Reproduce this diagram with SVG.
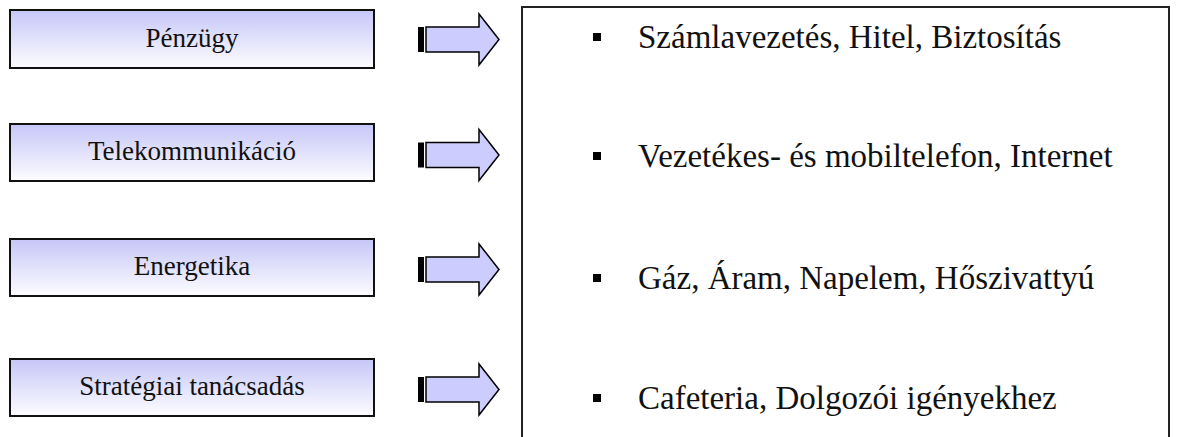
<svg xmlns="http://www.w3.org/2000/svg" width="1177" height="437" viewBox="0 0 1177 437">
  <defs>
    <linearGradient id="boxFill" x1="0" y1="0" x2="0" y2="1">
      <stop offset="0" stop-color="#c6c6f8"/>
      <stop offset="1" stop-color="#fdfdff"/>
    </linearGradient>
    <style>
      .box { fill: url(#boxFill); stroke: #111; stroke-width: 2; }
      .lbl { font-family: "Liberation Serif", "Times New Roman", serif; font-size: 27px; fill: #111; text-anchor: middle; }
      .item { font-family: "Liberation Serif", "Times New Roman", serif; font-size: 33px; fill: #111; }
      .bullet { fill: #000; }
      .panel { fill: #fff; stroke: #222; stroke-width: 2; }
      .arrow { fill: #ccccff; stroke: #000; stroke-width: 1.5; stroke-linejoin: miter; }
      .stripe { fill: #000; }
    </style>
  </defs>
  <rect width="1177" height="437" fill="#fff"/>

  <g id="panel">
    <rect class="panel" x="522" y="7" width="647" height="440"/>
  </g>

  <g id="node-penzugy">
    <rect class="box" x="10" y="10" width="364" height="58"/>
    <text class="lbl" x="192" y="47">Pénzügy</text>
  </g>
  <g id="node-telekommunikacio">
    <rect class="box" x="10" y="124" width="364" height="57"/>
    <text class="lbl" x="192" y="160">Telekommunikáció</text>
  </g>
  <g id="node-energetika">
    <rect class="box" x="10" y="239" width="364" height="57"/>
    <text class="lbl" x="192" y="275">Energetika</text>
  </g>
  <g id="node-strategiai">
    <rect class="box" x="10" y="359" width="364" height="57"/>
    <text class="lbl" x="192" y="395">Stratégiai tanácsadás</text>
  </g>

  <g id="connectors">
    <g transform="translate(0,39.5)">
      <rect class="stripe" x="418" y="-12.5" width="6" height="25"/>
      <path class="arrow" d="M426,-12.5 H479 V-25.5 L499,0 L479,25.5 V12.5 H426 Z"/>
    </g>
    <g transform="translate(0,155)">
      <rect class="stripe" x="418" y="-12.5" width="6" height="25"/>
      <path class="arrow" d="M426,-12.5 H479 V-25.5 L499,0 L479,25.5 V12.5 H426 Z"/>
    </g>
    <g transform="translate(0,269.5)">
      <rect class="stripe" x="418" y="-12.5" width="6" height="25"/>
      <path class="arrow" d="M426,-12.5 H479 V-25.5 L499,0 L479,25.5 V12.5 H426 Z"/>
    </g>
    <g transform="translate(0,389.5)">
      <rect class="stripe" x="418" y="-12.5" width="6" height="25"/>
      <path class="arrow" d="M426,-12.5 H479 V-25.5 L499,0 L479,25.5 V12.5 H426 Z"/>
    </g>
  </g>

  <g id="items">
    <g id="item-1">
      <rect class="bullet" x="593" y="33" width="8" height="8"/>
      <text class="item" x="638" y="48">Számlavezetés, Hitel, Biztosítás</text>
    </g>
    <g id="item-2">
      <rect class="bullet" x="593" y="152" width="8" height="8"/>
      <text class="item" x="638" y="167">Vezetékes- és mobiltelefon, Internet</text>
    </g>
    <g id="item-3">
      <rect class="bullet" x="593" y="274" width="8" height="8"/>
      <text class="item" x="638" y="289">Gáz, Áram, Napelem, Hőszivattyú</text>
    </g>
    <g id="item-4">
      <rect class="bullet" x="593" y="394" width="8" height="8"/>
      <text class="item" x="638" y="409">Cafeteria, Dolgozói igényekhez</text>
    </g>
  </g>
</svg>
